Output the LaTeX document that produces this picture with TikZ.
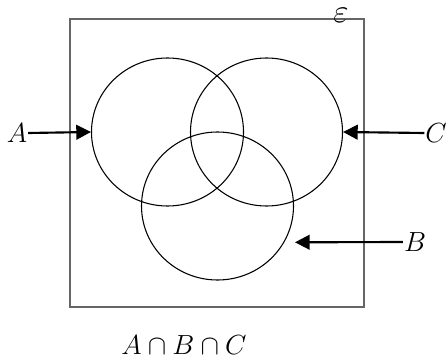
\documentclass[tikz,border=0pt]{standalone}
\usepackage{amsmath}
\usetikzlibrary{arrows.meta,shapes.geometric}

\begin{document}
\begin{tikzpicture}[
  x=0.75pt, y=-0.75pt,
  font=\huge,
  setellipse/.style={draw, ellipse, line width=0.8pt, inner sep=0pt, minimum width=114pt, minimum height=111pt},
  lbl/.style={inner sep=0.6pt},
  pointer/.style={-{Triangle[length=11pt, width=11pt]}, line width=1.6pt},
]
\useasboundingbox (0,0) rectangle (448,363);

% ===== Universal set =====
\draw[gray!80!black, line width=1pt] (70,19) rectangle (364,307);
\node[inner sep=0pt, anchor=base, font=\Huge] (univ) at (341,23) {$\varepsilon$};

% ===== The three sets =====
\node[setellipse] (setA) at (167.5,132) {};
\node[setellipse] (setC) at (266.5,132) {};
\node[setellipse] (setB) at (217.5,206) {};

% ===== Labels and pointers =====
\node[lbl] (lblA) at (17,133) {$A$};
\node[lbl] (lblC) at (436,133) {$C$};
\node[lbl] (lblB) at (415,242) {$B$};
\coordinate (tipB) at (295,242.3);

\draw[pointer] (lblA.east) -- (setA.west);
\draw[pointer] (lblC.west) -- (setC.east);
\draw[pointer] (lblB.west) -- (tipB);

% ===== Caption =====
\node[lbl] (capt) at (184,345) {$A\cap B\cap C$};

\end{tikzpicture}
\end{document}
